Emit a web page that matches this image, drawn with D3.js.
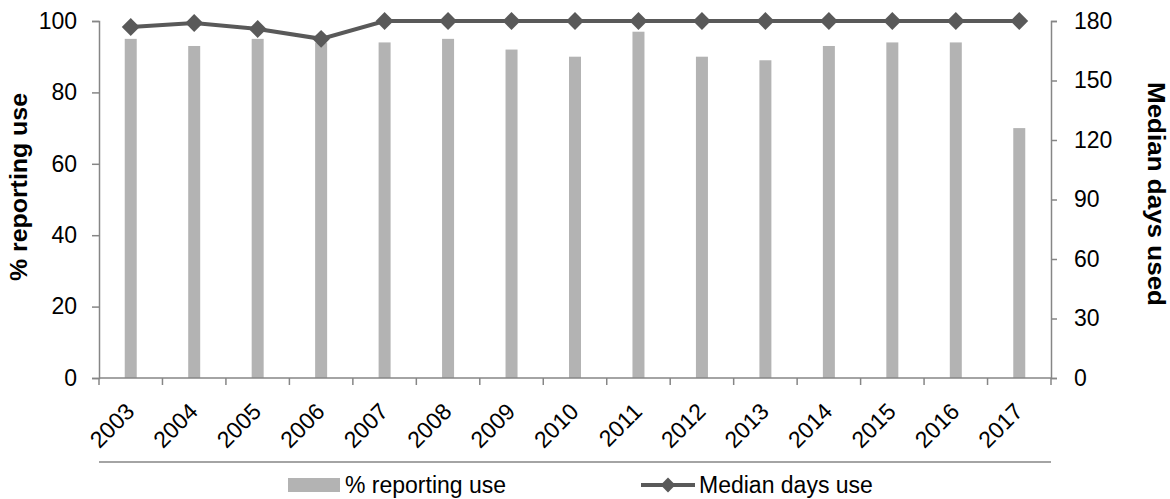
<!DOCTYPE html>
<html>
<head>
<meta charset="utf-8">
<script src="https://cdn.jsdelivr.net/npm/d3@7"></script>
<style>
  html, body { margin: 0; padding: 0; background: #fff; }
  svg { display: block; font-family: "Liberation Sans", Arial, sans-serif; }
</style>
</head>
<body>
<svg id="chart" width="1170" height="499"></svg>
<script>
// Survey years
const years = ["2003","2004","2005","2006","2007","2008","2009","2010","2011","2012","2013","2014","2015","2016","2017"];
// Share of respondents reporting use (%)
const pctReporting = [95, 93, 95, 94, 94, 95, 92, 90, 97, 90, 89, 93, 94, 94, 70];
// Median number of days used
const medianDays = [177, 179, 176, 171, 180, 180, 180, 180, 180, 180, 180, 180, 180, 180, 180];
// Axis tick values
const leftTicks = [0, 20, 40, 60, 80, 100];
const rightTicks = [0, 30, 60, 90, 120, 150, 180];

const svg = d3.select("#chart");
const m = { left: 99, right: 1051, top: 21, bottom: 378 };
const axisColor = "#868686";
const barColor = "#b3b3b3";
const lineColor = "#595959";
const tickFont = 23;

const x = d3.scaleBand().domain(years).range([m.left, m.right]);
const yL = d3.scaleLinear().domain([0, 100]).range([m.bottom, m.top]);
const yR = d3.scaleLinear().domain([0, 180]).range([m.bottom, m.top]);

// Bars
const barW = 12;
svg.append("g").selectAll("rect").data(years).join("rect")
  .attr("x", d => x(d) + x.bandwidth() / 2 - barW / 2)
  .attr("width", barW)
  .attr("y", (d, i) => yL(pctReporting[i]))
  .attr("height", (d, i) => m.bottom - yL(pctReporting[i]))
  .attr("fill", barColor);

// Left axis
const gL = svg.append("g").attr("transform", `translate(${m.left},0)`)
  .call(d3.axisLeft(yL).tickValues(leftTicks).tickSize(7).tickPadding(15));
// Right axis
const gR = svg.append("g").attr("transform", `translate(${m.right},0)`)
  .call(d3.axisRight(yR).tickValues(rightTicks).tickSize(6).tickPadding(17));
[gL, gR].forEach(g => {
  g.select(".domain").attr("stroke", axisColor).attr("stroke-width", 1.5);
  g.selectAll(".tick line").attr("stroke", axisColor).attr("stroke-width", 1.5);
  g.selectAll(".tick text").attr("fill", "#000").attr("font-size", tickFont)
    .attr("font-family", "Liberation Sans, Arial, sans-serif");
});

// Bottom axis: category boundary ticks
const gX = svg.append("g").attr("transform", `translate(0,${m.bottom})`);
gX.append("line").attr("x1", m.left).attr("x2", m.right)
  .attr("stroke", axisColor).attr("stroke-width", 1.5);
const boundaries = years.map(d => x(d)).concat([m.right]);
gX.selectAll("line.tk").data(boundaries).join("line").attr("class", "tk")
  .attr("x1", d => d).attr("x2", d => d).attr("y1", 0).attr("y2", 7)
  .attr("stroke", axisColor).attr("stroke-width", 1.5);
gX.selectAll("text").data(years).join("text")
  .attr("transform", d => `translate(${x(d) + x.bandwidth() / 2 + 5},${35}) rotate(-45)`)
  .attr("text-anchor", "end")
  .attr("font-size", tickFont)
  .attr("fill", "#000")
  .text(d => d);

// Line series with diamond markers
const cx = d => x(d) + x.bandwidth() / 2;
const line = d3.line().x((d, i) => cx(years[i])).y(d => yR(d));
svg.append("path").datum(medianDays)
  .attr("d", line)
  .attr("fill", "none")
  .attr("stroke", lineColor)
  .attr("stroke-width", 4);
svg.append("g").selectAll("path").data(medianDays).join("path")
  .attr("transform", (d, i) => `translate(${cx(years[i])},${yR(d)}) rotate(45)`)
  .attr("d", d3.symbol().type(d3.symbolSquare).size(160))
  .attr("fill", lineColor);

// Axis titles
svg.append("text")
  .attr("transform", `translate(27,187) rotate(-90)`)
  .attr("text-anchor", "middle")
  .attr("font-size", 23).attr("font-weight", "bold")
  .attr("textLength", 188).attr("lengthAdjust", "spacingAndGlyphs")
  .text("% reporting use");
svg.append("text")
  .attr("transform", `translate(1148,194) rotate(90)`)
  .attr("text-anchor", "middle")
  .attr("font-size", 23).attr("font-weight", "bold")
  .attr("textLength", 224).attr("lengthAdjust", "spacingAndGlyphs")
  .text("Median days used");

// Separator line above legend
svg.append("line").attr("x1", m.left).attr("x2", m.right)
  .attr("y1", 462).attr("y2", 462)
  .attr("stroke", axisColor).attr("stroke-width", 1.5);

// Legend
const lg = svg.append("g");
lg.append("rect").attr("x", 288).attr("y", 478).attr("width", 52).attr("height", 14).attr("fill", barColor);
lg.append("text").attr("x", 345).attr("y", 493).attr("font-size", 23).text("% reporting use");
lg.append("line").attr("x1", 641).attr("x2", 695).attr("y1", 485).attr("y2", 485)
  .attr("stroke", lineColor).attr("stroke-width", 4);
lg.append("path").attr("transform", "translate(668,485) rotate(45)")
  .attr("d", d3.symbol().type(d3.symbolSquare).size(110)).attr("fill", lineColor);
lg.append("text").attr("x", 699).attr("y", 493).attr("font-size", 23).text("Median days use");
</script>
</body>
</html>
